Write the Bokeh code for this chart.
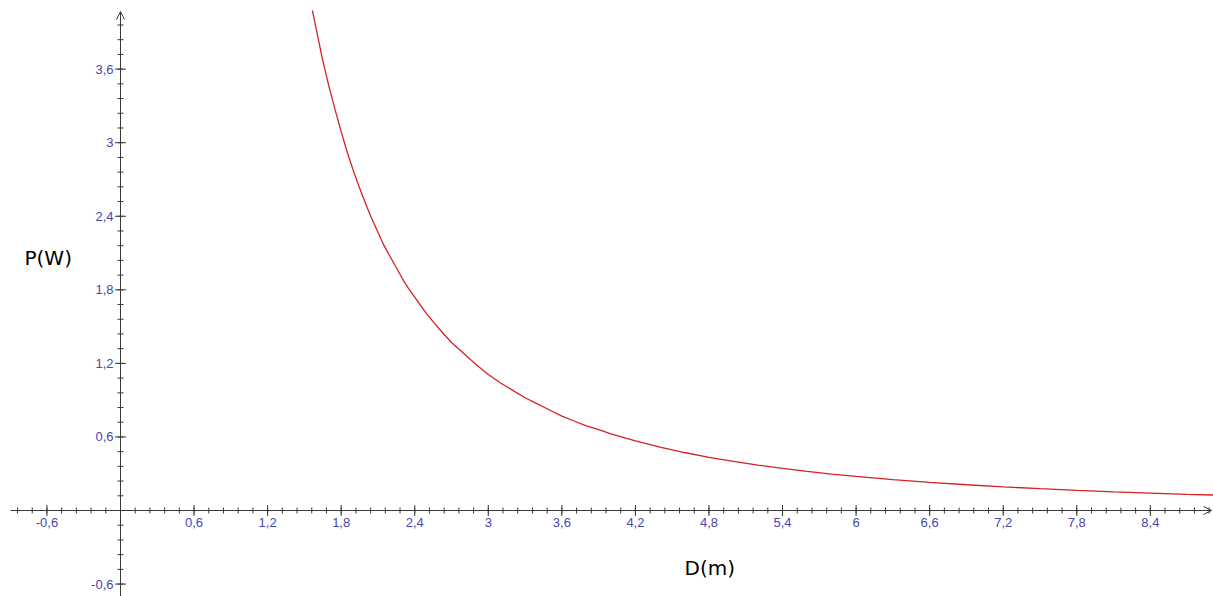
import numpy as np
from bokeh.plotting import figure
from bokeh.models import Range1d, Arrow, OpenHead, ColumnDataSource
from bokeh.core.properties import value
from bokeh.embed import file_html
from bokeh.resources import INLINE

# Curve values: distance D (m) and power P (W)
D = [1.565, 1.6, 1.65, 1.7, 1.75, 1.8, 1.85, 1.9, 1.95, 2.0, 2.05, 2.1, 2.15, 2.2,
     2.25, 2.3, 2.35, 2.4, 2.45, 2.5, 2.55, 2.6, 2.7, 2.8, 2.9, 3.0, 3.1, 3.2, 3.3,
     3.4, 3.5, 3.6, 3.7, 3.8, 3.9, 4.0, 4.2, 4.4, 4.6, 4.8, 5.0, 5.2, 5.4, 5.6,
     5.8, 6.0, 6.3, 6.6, 6.9, 7.2, 7.5, 7.8, 8.1, 8.4, 8.7, 8.92]
P = [4.08, 3.91, 3.67, 3.46, 3.27, 3.09, 2.92, 2.77, 2.63, 2.50, 2.38, 2.27, 2.16,
     2.07, 1.98, 1.89, 1.81, 1.74, 1.67, 1.60, 1.54, 1.48, 1.37, 1.28, 1.19, 1.11,
     1.04, 0.98, 0.92, 0.87, 0.82, 0.77, 0.73, 0.69, 0.66, 0.625, 0.567, 0.517,
     0.473, 0.434, 0.40, 0.37, 0.343, 0.319, 0.297, 0.278, 0.252, 0.230, 0.210,
     0.193, 0.178, 0.164, 0.152, 0.142, 0.132, 0.126]

# Axis ticks
x_major = [-0.6, 0.6, 1.2, 1.8, 2.4, 3.0, 3.6, 4.2, 4.8, 5.4, 6.0, 6.6, 7.2, 7.8, 8.4]
x_labels = ["-0,6", "0,6", "1,2", "1,8", "2,4", "3", "3,6", "4,2", "4,8", "5,4", "6",
            "6,6", "7,2", "7,8", "8,4"]
y_major = [-0.6, 0.6, 1.2, 1.8, 2.4, 3.0, 3.6]
y_labels = ["-0,6", "0,6", "1,2", "1,8", "2,4", "3", "3,6"]
x_minor = [round(v, 2) for v in np.arange(-0.84, 8.90, 0.12)]
y_minor = [round(v, 2) for v in np.arange(-0.72, 4.05, 0.12)]
x_label = "D(m)"
y_label = "P(W)"

W, H = 1213, 596
scale = 122.6  # pixels per unit (both axes)
x0 = -120 / scale
x1 = x0 + W / scale
y1 = 510 / scale
y0 = y1 - H / scale

p = figure(width=W, height=H, output_backend="svg", toolbar_location=None,
           x_range=Range1d(x0, x1), y_range=Range1d(y0, y1),
           x_axis_location=None, y_axis_location=None, min_border=0)
p.outline_line_color = None
p.grid.visible = False
p.background_fill_color = "white"

axis_col = "#3a3a3a"
lab_col = "#4646b0"

# axis lines with arrow heads
p.add_layout(Arrow(x_start=x0 + 10 / scale, y_start=0, x_end=x1 - 2 / scale, y_end=0,
                   line_color=axis_col, line_width=1,
                   end=OpenHead(size=8, line_color=axis_col, line_width=1)))
p.add_layout(Arrow(x_start=0, y_start=y0, x_end=0, y_end=y1 - 11 / scale,
                   line_color=axis_col, line_width=1,
                   end=OpenHead(size=8, line_color=axis_col, line_width=1)))

# ticks
p.scatter(x=x_minor, y=[0] * len(x_minor), marker="dash", size=6, angle=np.pi / 2,
          line_color=axis_col, line_width=1)
p.scatter(x=x_major, y=[0] * len(x_major), marker="dash", size=11, angle=np.pi / 2,
          line_color=axis_col, line_width=1)
p.scatter(x=[0] * len(y_minor), y=y_minor, marker="dash", size=6,
          line_color=axis_col, line_width=1)
p.scatter(x=[0] * len(y_major), y=y_major, marker="dash", size=11,
          line_color=axis_col, line_width=1)

# tick labels
p.text(x=x_major, y=[0] * len(x_major), text=x_labels, y_offset=7,
       text_align="center", text_baseline="top", text_color=lab_col,
       text_font=value("Liberation Sans"), text_font_size="13px")
p.text(x=[0] * len(y_major), y=y_major, text=y_labels, x_offset=-7,
       text_align="right", text_baseline="middle", text_color=lab_col,
       text_font=value("Liberation Sans"), text_font_size="13px")

# axis titles
p.text(x=[(684 - 120) / scale], y=[(510 - 567) / scale], text=[x_label],
       text_align="left", text_baseline="middle", text_color="black",
       text_font=value("DejaVu Sans"), text_font_size="20px")
p.text(x=[(24 - 120) / scale], y=[(510 - 257) / scale], text=[y_label],
       text_align="left", text_baseline="middle", text_color="black",
       text_font=value("DejaVu Sans"), text_font_size="20px")

# curve
src = ColumnDataSource(dict(D=D, P=P))
p.line("D", "P", source=src, line_color="#d42222", line_width=1.3)

open("out.html", "w").write(file_html(p, INLINE))
